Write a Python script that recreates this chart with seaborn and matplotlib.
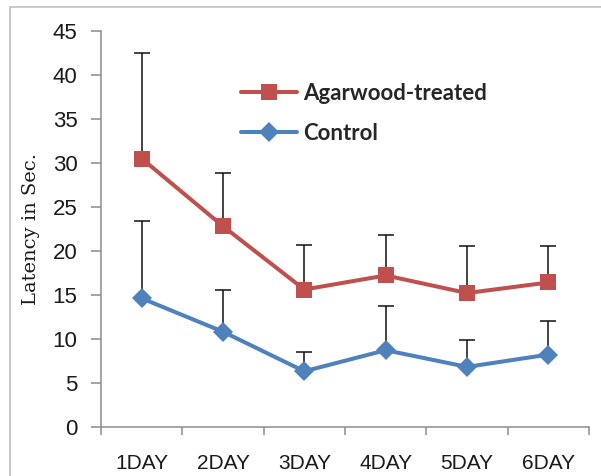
import numpy as np
import pandas as pd
import matplotlib
matplotlib.use("Agg")
import matplotlib.pyplot as plt
from matplotlib.patches import Rectangle
from matplotlib.ticker import FixedLocator
import seaborn as sns

# Escape latency per training day (mean and upper SD)
days = ["1DAY", "2DAY", "3DAY", "4DAY", "5DAY", "6DAY"]
agarwood_mean = [30.5, 22.8, 15.6, 17.2, 15.2, 16.4]
agarwood_sd = [12.0, 6.0, 5.1, 4.6, 5.4, 4.2]
control_mean = [14.6, 10.8, 6.3, 8.7, 6.8, 8.2]
control_sd = [8.8, 4.7, 2.2, 5.0, 3.1, 3.8]
groups = ["Agarwood-treated", "Control"]
y_ticks = [0, 5, 10, 15, 20, 25, 30, 35, 40, 45]

red = "#C0504D"
blue = "#4F81BD"
spine_gray = "#8C8C8C"

sns.set_style("white")
plt.rcParams["font.family"] = ["Liberation Sans", "DejaVu Sans"]

df = pd.DataFrame({
    "pos": list(range(len(days))) * 2,
    "latency": agarwood_mean + control_mean,
    "sd": agarwood_sd + control_sd,
    "group": [groups[0]] * len(days) + [groups[1]] * len(days),
})

fig = plt.figure(figsize=(6.01, 4.76), dpi=100)
ax = fig.add_axes([101 / 601, 1 - 426.7 / 476, 488 / 601, (426.7 - 31) / 476])

# one-sided (upper) error bars behind the lines
for g in groups:
    sub = df[df["group"] == g]
    ax.errorbar(sub["pos"], sub["latency"],
                yerr=[np.zeros(len(sub)), sub["sd"]],
                fmt="none", ecolor="#111111", elinewidth=1.1,
                capsize=5.5, capthick=1.1, zorder=1)

sns.lineplot(data=df, x="pos", y="latency", hue="group", style="group",
             hue_order=groups, style_order=groups,
             palette={groups[0]: red, groups[1]: blue},
             markers={groups[0]: "s", groups[1]: "D"}, dashes=False,
             linewidth=2.9, markersize=12, markeredgewidth=0,
             ax=ax, zorder=3, legend=True)
for ln in ax.lines:
    if ln.get_marker() == "D":
        ln.set_markersize(10.5)

ax.set_xlim(-0.5, 5.5)
ax.set_ylim(0, 45)
ax.set_yticks(y_ticks)
ax.set_yticklabels([str(t) for t in y_ticks])
ax.set_xticks(range(len(days)))
ax.set_xticklabels(days)
ax.xaxis.set_minor_locator(FixedLocator(np.arange(-0.5, 6.0, 1.0)))
ax.tick_params(axis="x", which="major", length=0, pad=20, labelsize=15,
               labelcolor="#1a1a1a")
ax.tick_params(axis="x", which="minor", length=6, width=1.1,
               color=spine_gray, direction="out", bottom=True)
ax.tick_params(axis="y", which="major", length=7, width=1.1,
               color=spine_gray, direction="out", left=True, pad=10,
               labelsize=16, labelcolor="#1a1a1a")

for side in ["top", "right"]:
    ax.spines[side].set_visible(False)
for side in ["left", "bottom"]:
    ax.spines[side].set_color(spine_gray)
    ax.spines[side].set_linewidth(1.1)

ax.set_xlabel("")
ax.set_ylabel("Latency in Sec.", fontsize=14, family="DejaVu Serif",
              color="#1a1a1a")
ax.yaxis.set_label_coords(-0.125, 0.5)

leg = ax.legend(loc="upper left", bbox_to_anchor=(221 / 601, 1 - 63 / 476),
                bbox_transform=fig.transFigure, frameon=False,
                handlelength=2.5, handletextpad=0.3, labelspacing=0.85,
                prop={"family": "Lato", "weight": "bold", "size": 16})
for h in leg.legend_handles:
    h.set_linewidth(2.9)

# outer chart frame
fig.patches.append(Rectangle((10 / 601, -0.1), 1.2, 1.1 - 7 / 476,
                             transform=fig.transFigure, fill=False,
                             edgecolor="#C0C0C0", linewidth=1.2))

fig.savefig("out.png", dpi=100)
